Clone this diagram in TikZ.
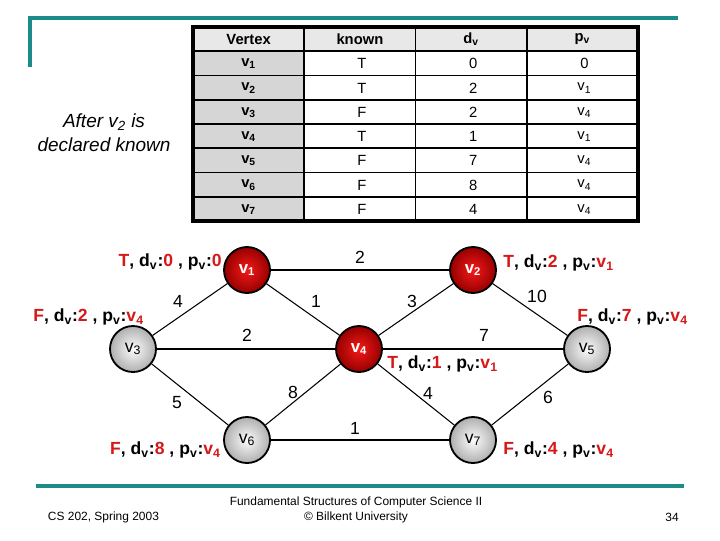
\documentclass[tikz,border=0pt]{standalone}
\usepackage{fontspec}
\setmainfont{Liberation Sans}
\usepackage{xcolor}
\definecolor{SlideTeal}{RGB}{28,140,138}
\definecolor{MarkRed}{RGB}{214,24,24}
\definecolor{HeadGray}{RGB}{232,232,232}
\definecolor{ColGray}{RGB}{214,214,214}
\definecolor{BallRed}{RGB}{245,25,25}
\definecolor{BallDark}{RGB}{150,0,0}
\definecolor{BallLight}{RGB}{252,252,252}
\definecolor{BallGray}{RGB}{175,175,175}
\usepackage{tikz}
\usetikzlibrary{positioning, calc}
\newcommand{\distlabel}[3]{%
  \textcolor{MarkRed}{#1}, d\textsubscript{v}:\textcolor{MarkRed}{#2} , p\textsubscript{v}:\textcolor{MarkRed}{#3}}
\tikzset{
  % Known vertex (red ball)
  vknown/.style={
    circle, draw=black, line width=1.3pt,
    inner color=BallRed, outer color=BallDark,
    minimum size=1.15cm, inner sep=0pt,
    text=white, font=\fontsize{12}{14}\selectfont\bfseries
  },
  % Unknown vertex (gray ball)
  vopen/.style={
    circle, draw=black, line width=1.3pt,
    inner color=BallLight, outer color=BallGray,
    minimum size=1.15cm, inner sep=0pt,
    font=\fontsize{12.5}{14}\selectfont
  },
  % Edges
  edge/.style={line width=0.75pt, black},
  wlabel/.style={font=\fontsize{12.5}{14}\selectfont, inner sep=1pt},
  % Status text beside a vertex
  status/.style={font=\fontsize{12.5}{14}\selectfont\bfseries, inner sep=0pt},
  % Table
  gridline/.style={line width=1.4pt, black},
  headcell/.style={font=\fontsize{10.5}{12}\selectfont\bfseries},
  vcell/.style={font=\fontsize{10.5}{12}\selectfont\bfseries},
  cell/.style={font=\fontsize{10.5}{12}\selectfont},
  footer/.style={font=\fontsize{8.5}{10.5}\selectfont, align=center},
  rule/.style={SlideTeal, line width=2.3pt},
}
\begin{document}
\begin{tikzpicture}[x=0.025cm, y=-0.025cm]
  \useasboundingbox (0,0) rectangle (720,540);

  % slide rules
  \draw[rule] (30,67) -- (30,18) -- (678,18);
  \draw[rule] (36,486) -- (684,486);

  % Table
  \fill[HeadGray] (193,27) rectangle (638,51.25);
  \fill[ColGray] (193,51.25) rectangle (304.25,221);
  \foreach \r in {1,...,7}
    \draw[gridline] (193,27+\r*24.25) -- (638,27+\r*24.25);
  \foreach \c in {1,2,3}
    \draw[gridline] (193+\c*111.25,27) -- (193+\c*111.25,221);
  \draw[line width=2.5pt] (193,27) rectangle (638,221);

  \foreach \txt [count=\c] in {Vertex, known, d\textsubscript{v}, p\textsubscript{v}}
    \node[headcell] (h\c) at (193+\c*111.25-55.6,39.1) {\txt};

  \foreach \k/\d/\p [count=\r] in {
    T/0/0, T/2/v\textsubscript{1}, F/2/v\textsubscript{4}, T/1/v\textsubscript{1},
    F/7/v\textsubscript{4}, F/8/v\textsubscript{4}, F/4/v\textsubscript{4}}{
    \node[vcell] (vx\r) at (248.6,39.6+\r*24.25) {v\textsubscript{\r}};
    \node[cell] (kn\r) at (361.9,39.6+\r*24.25) {\k};
    \node[cell] (dv\r) at (473.1,39.6+\r*24.25) {\d};
    \node[cell] (pv\r) at (584.4,39.6+\r*24.25) {\p};
  }

  \node[font=\fontsize{13.5}{17}\selectfont\itshape, align=center] (note) at (104,133)
    {After v\textsubscript{2} is\\declared known};

  % Graph
  \node[vknown] (v1) at (247,270) {v\textsubscript{1}};
  \node[vknown] (v2) at (473,270) {v\textsubscript{2}};
  \node[vopen]  (v3) at (133,349) {v\textsubscript{3}};
  \node[vknown] (v4) at (359,349) {v\textsubscript{4}};
  \node[vopen]  (v5) at (587,349) {v\textsubscript{5}};
  \node[vopen]  (v6) at (247,440) {v\textsubscript{6}};
  \node[vopen]  (v7) at (473,440) {v\textsubscript{7}};

  \foreach \a/\b in {v1/v2, v1/v4, v1/v3, v2/v4, v2/v5, v3/v4,
                     v4/v5, v3/v6, v4/v6, v4/v7, v5/v7, v6/v7}
    \draw[edge] (\a) -- (\b);

  \foreach \x/\y/\w [count=\i] in {
    360/257/2, 316/301/1, 178/301/4, 412/301/3, 537/296/10, 247/335/2,
    484/335/7, 177/403/5, 293/392/8, 428/393/4, 548/397/6, 355/428/1}
    \node[wlabel] (w\i) at (\x,\y) {\w};

  % Status of each vertex
  \node[status, anchor=east] (s1) at (222,262) {\distlabel{T}{0}{0}};
  \node[status, anchor=west] (s2) at (503,263) {\distlabel{T}{2}{v\textsubscript{1}}};
  \node[status, anchor=west] (s3) at (33,317) {\distlabel{F}{2}{v\textsubscript{4}}};
  \node[status, anchor=west] (s4) at (387,364) {\distlabel{T}{1}{v\textsubscript{1}}};
  \node[status, anchor=west] (s5) at (577,317) {\distlabel{F}{7}{v\textsubscript{4}}};
  \node[status, anchor=east] (s6) at (221,450) {\distlabel{F}{8}{v\textsubscript{4}}};
  \node[status, anchor=west] (s7) at (503,450) {\distlabel{F}{4}{v\textsubscript{4}}};

  % Footer
  \node[footer, anchor=west] (course) at (43,517) {CS 202, Spring 2003};
  \node[footer] (title) at (356,510) {Fundamental Structures of Computer Science II\\\textcopyright{} Bilkent University};
  \node[footer] (page) at (672,517) {34};
\end{tikzpicture}
\end{document}
